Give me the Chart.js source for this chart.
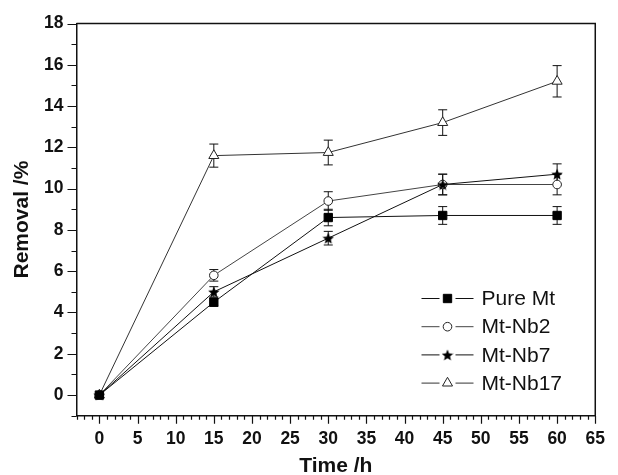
<!DOCTYPE html>
<html>
<head>
<meta charset="utf-8">
<script src="https://cdn.jsdelivr.net/npm/chart.js@4.4.1/dist/chart.umd.min.js"></script>
<style>
  html, body { margin: 0; padding: 0; background: #fff; }
  #wrap { width: 618px; height: 475px; position: relative; }
</style>
</head>
<body>
<div id="wrap"><canvas id="c"></canvas></div>
<script>
// ---- data ----
const times = [0, 15, 30, 45, 60];
const seriesNames = ['Pure Mt', 'Mt-Nb2', 'Mt-Nb7', 'Mt-Nb17'];
const pureMt = [0, 4.5, 8.6, 8.7, 8.7];
const pureMtErr = [0.05, 0.2, 0.4, 0.43, 0.43];
const mtNb2 = [0, 5.8, 9.4, 10.2, 10.2];
const mtNb2Err = [0.05, 0.28, 0.45, 0.5, 0.5];
const mtNb7 = [0, 5.0, 7.6, 10.2, 10.7];
const mtNb7Err = [0.05, 0.25, 0.33, 0.5, 0.5];
const mtNb17 = [0, 11.6, 11.75, 13.2, 15.2];
const mtNb17Err = [0.05, 0.56, 0.6, 0.62, 0.76];
const xTickLabels = [0, 5, 10, 15, 20, 25, 30, 35, 40, 45, 50, 55, 60, 65];
const yTickLabels = [0, 2, 4, 6, 8, 10, 12, 14, 16, 18];

// ---- star marker image ----
function makeStar(size) {
  const cv = document.createElement('canvas');
  cv.width = size; cv.height = size;
  const g = cv.getContext('2d');
  const cx = size / 2, cy = size / 2 + 0.6, R = size / 2, r = R * 0.45;
  g.beginPath();
  for (let i = 0; i < 10; i++) {
    const rad = (i % 2 === 0) ? R : r;
    const a = -Math.PI / 2 + i * Math.PI / 5;
    const px = cx + rad * Math.cos(a), py = cy + rad * Math.sin(a);
    if (i === 0) g.moveTo(px, py); else g.lineTo(px, py);
  }
  g.closePath();
  g.fillStyle = '#000';
  g.fill();
  return cv;
}
const starImg = makeStar(12);

function pts(vals) { return times.map((t, i) => ({ x: t, y: vals[i] })); }

const datasets = [
  { label: seriesNames[0], data: pts(pureMt), err: pureMtErr, borderColor: '#111', pointStyle: 'rect',
    pointRadius: 5.9, pointBackgroundColor: '#000', pointBorderColor: '#000', order: 0 },
  { label: seriesNames[1], data: pts(mtNb2), err: mtNb2Err, borderColor: '#444', pointStyle: 'circle',
    pointRadius: 4.3, pointBackgroundColor: '#fff', pointBorderColor: '#222', order: 2 },
  { label: seriesNames[2], data: pts(mtNb7), err: mtNb7Err, borderColor: '#111', pointStyle: starImg,
    pointRadius: 6, pointBackgroundColor: '#000', pointBorderColor: '#000', order: 1 },
  { label: seriesNames[3], data: pts(mtNb17), err: mtNb17Err, borderColor: '#333', pointStyle: 'triangle',
    pointRadius: 5.8, pointBackgroundColor: '#fff', pointBorderColor: '#222', order: 3 }
].map(d => Object.assign({ borderWidth: 1, pointBorderWidth: 1, tension: 0, fill: false,
  pointHoverRadius: d.pointRadius }, d));

// ---- plugins ----
const errorBars = {
  id: 'errorBars',
  beforeDatasetsDraw(chart) {
    const ctx = chart.ctx, xs = chart.scales.x, ys = chart.scales.y;
    ctx.save();
    ctx.strokeStyle = '#111';
    ctx.lineWidth = 1;
    chart.data.datasets.forEach(ds => {
      ds.data.forEach((p, i) => {
        const e = ds.err[i];
        if (!e) return;
        const px = xs.getPixelForValue(p.x);
        const y1 = ys.getPixelForValue(p.y + e), y2 = ys.getPixelForValue(p.y - e);
        ctx.beginPath();
        ctx.moveTo(px, y1); ctx.lineTo(px, y2);
        ctx.moveTo(px - 4.5, y1); ctx.lineTo(px + 4.5, y1);
        ctx.moveTo(px - 4.5, y2); ctx.lineTo(px + 4.5, y2);
        ctx.stroke();
      });
    });
    ctx.restore();
  }
};

const frameAndTicks = {
  id: 'frameAndTicks',
  afterDraw(chart) {
    const ctx = chart.ctx, a = chart.chartArea, xs = chart.scales.x, ys = chart.scales.y;
    ctx.save();
    ctx.strokeStyle = '#111';
    ctx.lineWidth = 1.5;
    ctx.beginPath();
    ctx.moveTo(a.left, a.top); ctx.lineTo(a.right, a.top); ctx.lineTo(a.right, a.bottom);
    ctx.stroke();
    ctx.lineWidth = 1.2;
    ctx.beginPath();
    for (let v = Math.ceil(xs.min); v <= xs.max; v++) {
      const px = Math.round(xs.getPixelForValue(v)) + 0.5;
      const len = (v % 5 === 0) ? 8 : 4;
      ctx.moveTo(px, a.bottom); ctx.lineTo(px, a.bottom + len);
    }
    for (let v = Math.ceil(ys.min); v <= ys.max; v++) {
      const py = Math.round(ys.getPixelForValue(v)) + 0.5;
      const len = (v % 2 === 0) ? 9 : 5;
      ctx.moveTo(a.left, py); ctx.lineTo(a.left - len, py);
    }
    ctx.stroke();
    ctx.restore();
  }
};

const customLegend = {
  id: 'customLegend',
  afterDraw(chart) {
    const ctx = chart.ctx;
    const x0 = 421.5, x1 = 473.5, xm = 447.5, tx = 481.5;
    const y0 = 298.5, dy = 28.2;
    ctx.save();
    chart.data.datasets.forEach((ds, i) => {
      const y = y0 + i * dy;
      ctx.strokeStyle = ds.borderColor;
      ctx.lineWidth = 1;
      ctx.beginPath();
      ctx.moveTo(x0, y); ctx.lineTo(xm - 8, y);
      ctx.moveTo(xm + 8, y); ctx.lineTo(x1, y);
      ctx.stroke();
      ctx.fillStyle = ds.pointBackgroundColor;
      ctx.strokeStyle = ds.pointBorderColor;
      ctx.lineWidth = 1;
      Chart.helpers.drawPoint(ctx, {
        pointStyle: ds.pointStyle, radius: ds.pointRadius, borderWidth: 1, rotation: 0
      }, xm, y);
      ctx.font = '21px "Liberation Sans", Arial, sans-serif';
      ctx.textBaseline = 'middle';
      ctx.textAlign = 'left';
      ctx.fillStyle = '#111';
      ctx.fillText(ds.label, tx, y + 1);
    });
    ctx.restore();
  }
};

const tickFont = { family: '"Liberation Sans", Arial, sans-serif', size: 17.5, weight: 'bold' };
const titleFont = { family: '"Liberation Sans", Arial, sans-serif', size: 21, weight: 'bold' };

new Chart(document.getElementById('c'), {
  type: 'line',
  data: { datasets },
  options: {
    responsive: true,
    maintainAspectRatio: false,
    animation: false,
    devicePixelRatio: 1,
    layout: { padding: { top: 14, right: 18.5, left: 0, bottom: 0 } },
    plugins: { legend: { display: false }, tooltip: { enabled: false } },
    scales: {
      x: {
        type: 'linear', min: -3, max: 65,
        afterBuildTicks(s) { s.ticks = xTickLabels.map(v => ({ value: v })); },
        afterFit(s) { s.height = 59.3; },
        grid: { display: false, drawTicks: false },
        border: { display: true, color: '#111', width: 1.5 },
        ticks: { font: tickFont, color: '#111', padding: 13, maxRotation: 0, autoSkip: false },
        title: { display: true, text: 'Time /h', font: titleFont, color: '#111', padding: { top: -4, bottom: -4 } }
      },
      y: {
        type: 'linear', min: -1, max: 18,
        afterBuildTicks(s) { s.ticks = yTickLabels.map(v => ({ value: v })); },
        afterFit(s) { s.width = 76.5; },
        grid: { display: false, drawTicks: false },
        border: { display: true, color: '#111', width: 1.5 },
        ticks: { font: tickFont, color: '#111', padding: 13, autoSkip: false },
        title: { display: true, text: 'Removal /%', font: titleFont, color: '#111', padding: { top: 10, bottom: 0 } }
      }
    }
  },
  plugins: [errorBars, frameAndTicks, customLegend]
});
</script>
</body>
</html>
